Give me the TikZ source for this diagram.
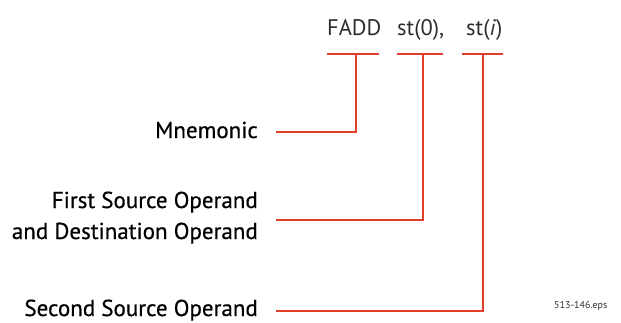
\documentclass[tikz,border=0pt]{standalone}
\usepackage{fontspec}
\setmainfont{PT Sans}
\newfontfamily\lblfont[FakeBold=0.5]{PT Sans}
\definecolor{lred}{RGB}{222,62,42}
\definecolor{tgray}{RGB}{45,45,45}
\begin{document}
\begin{tikzpicture}[x=1pt,y=-1pt,
  lbl/.style={anchor=base east,inner sep=0pt,font=\lblfont\fontsize{23}{31}\selectfont,align=right,text=black},
  top/.style={anchor=base west,inner sep=0pt,font=\fontsize{22.5}{26}\selectfont,text=tgray},
  conn/.style={draw=lred,line width=2.6pt},
  note/.style={anchor=base west,inner sep=0pt,font=\fontsize{10}{12}\selectfont,text=tgray}]
\useasboundingbox (0,0) rectangle (621,322);
% top text
\node[top] (fadd) at (327,35) {FADD};
\node[top] (st0) at (397,35) {st(0),};
\node[top] (sti) at (466,35) {st(\textit{i})};
% bars
\coordinate (b1l) at (327,54); \coordinate (b1r) at (379,54); \coordinate (b1) at (356,54);
\coordinate (b2l) at (397,54); \coordinate (b2r) at (443,54); \coordinate (b2) at (423,54);
\coordinate (b3l) at (462,54); \coordinate (b3r) at (503,54); \coordinate (b3) at (483,54);
\draw[conn] (b1l) -- (b1r);
\draw[conn] (b2l) -- (b2r);
\draw[conn] (b3l) -- (b3r);
% labels
\node[lbl] (mn) at (258,138) {Mnemonic};
\node[lbl] (fs) at (258,239) {First Source Operand\\and Destination Operand};
\node[lbl] (ss) at (258,316) {Second Source Operand};
\coordinate (m1) at (276,132);
\coordinate (m2) at (276,220);
\coordinate (m3) at (276,311);
\draw[conn] (m1) -| (b1);
\draw[conn] (m2) -| (b2);
\draw[conn] (m3) -| (b3);
\node[note] (eps) at (554,308) {513-146.eps};
\end{tikzpicture}
\end{document}
